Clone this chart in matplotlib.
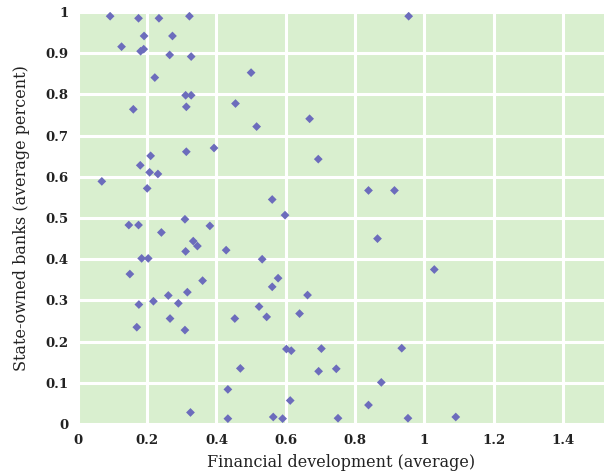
import matplotlib
matplotlib.use("Agg")
import matplotlib.pyplot as plt

# Financial development vs. share of state-owned banks, one point per country
fin_dev = [
    0.093, 0.175, 0.234, 0.322, 0.955,
    0.191, 0.273, 0.126, 0.181, 0.190, 0.265, 0.327,
    0.500, 0.222, 0.311, 0.327, 0.455, 0.313, 0.160,
    0.669, 0.516, 0.393, 0.313, 0.210, 0.694, 0.180,
    0.207, 0.231, 0.069, 0.200, 0.839, 0.914, 0.561,
    0.598, 0.309, 0.147, 0.175, 0.381, 0.241, 0.865,
    0.333, 0.345, 0.428, 0.311, 0.184, 0.203, 0.532,
    1.029, 0.150, 0.578, 0.360, 0.561, 0.316, 0.663,
    0.261, 0.218, 0.290, 0.176, 0.523, 0.640, 0.545,
    0.266, 0.453, 0.170, 0.309,
    0.602, 0.616, 0.703, 0.935, 0.469, 0.746, 0.695,
    0.876, 0.433, 0.613, 0.839, 0.325,
    0.433, 0.564, 0.591, 0.751, 0.953, 1.091,
]
state_banks = [
    0.990, 0.985, 0.985, 0.990, 0.990,
    0.942, 0.942, 0.916, 0.905, 0.910, 0.896, 0.892,
    0.853, 0.841, 0.798, 0.798, 0.778, 0.770, 0.764,
    0.741, 0.722, 0.670, 0.661, 0.651, 0.643, 0.628,
    0.611, 0.607, 0.589, 0.572, 0.567, 0.567, 0.545,
    0.507, 0.497, 0.483, 0.483, 0.481, 0.465, 0.450,
    0.444, 0.432, 0.422, 0.419, 0.402, 0.402, 0.400,
    0.375, 0.364, 0.354, 0.348, 0.333, 0.320, 0.313,
    0.312, 0.298, 0.293, 0.290, 0.285, 0.268, 0.260,
    0.256, 0.256, 0.235, 0.228,
    0.182, 0.178, 0.183, 0.184, 0.135, 0.134, 0.128,
    0.101, 0.084, 0.057, 0.046, 0.028,
    0.013, 0.017, 0.013, 0.014, 0.014, 0.017,
]

x_ticks = [0, 0.2, 0.4, 0.6, 0.8, 1.0, 1.2, 1.4]
x_tick_labels = ["0", "0.2", "0.4", "0.6", "0.8", "1", "1.2", "1.4"]
y_ticks = [0, 0.1, 0.2, 0.3, 0.4, 0.5, 0.6, 0.7, 0.8, 0.9, 1.0]
y_tick_labels = ["0", "0.1", "0.2", "0.3", "0.4", "0.5", "0.6", "0.7", "0.8", "0.9", "1"]

fig = plt.figure(figsize=(6.04, 4.74), dpi=100)
ax = fig.add_axes([0.129, 0.1055, 0.871, 0.869])
ax.set_facecolor("#d9efcf")

ax.scatter(fin_dev, state_banks, marker="D", s=20, color="#6c6cbc",
           edgecolors="none", zorder=3)

ax.set_xlim(0, 1.519)
ax.set_ylim(0, 1.0)
ax.set_xticks(x_ticks)
ax.set_xticklabels(x_tick_labels)
ax.set_yticks(y_ticks)
ax.set_yticklabels(y_tick_labels)
ax.grid(True, color="white", linewidth=2.2, zorder=1)
ax.set_axisbelow(True)
for s in ax.spines.values():
    s.set_visible(False)
ax.tick_params(length=0, pad=7)
for lab in ax.get_xticklabels() + ax.get_yticklabels():
    lab.set_fontfamily("DejaVu Serif")
    lab.set_fontweight("bold")
    lab.set_fontsize(9.5)
    lab.set_color("#222222")

ax.set_xlabel("Financial development (average)", family="DejaVu Serif",
              fontsize=11.5, color="#222222", labelpad=5)
ax.set_ylabel("State-owned banks (average percent)", family="DejaVu Serif",
              fontsize=11.5, color="#222222", labelpad=11)

fig.savefig("out.png", dpi=100)
